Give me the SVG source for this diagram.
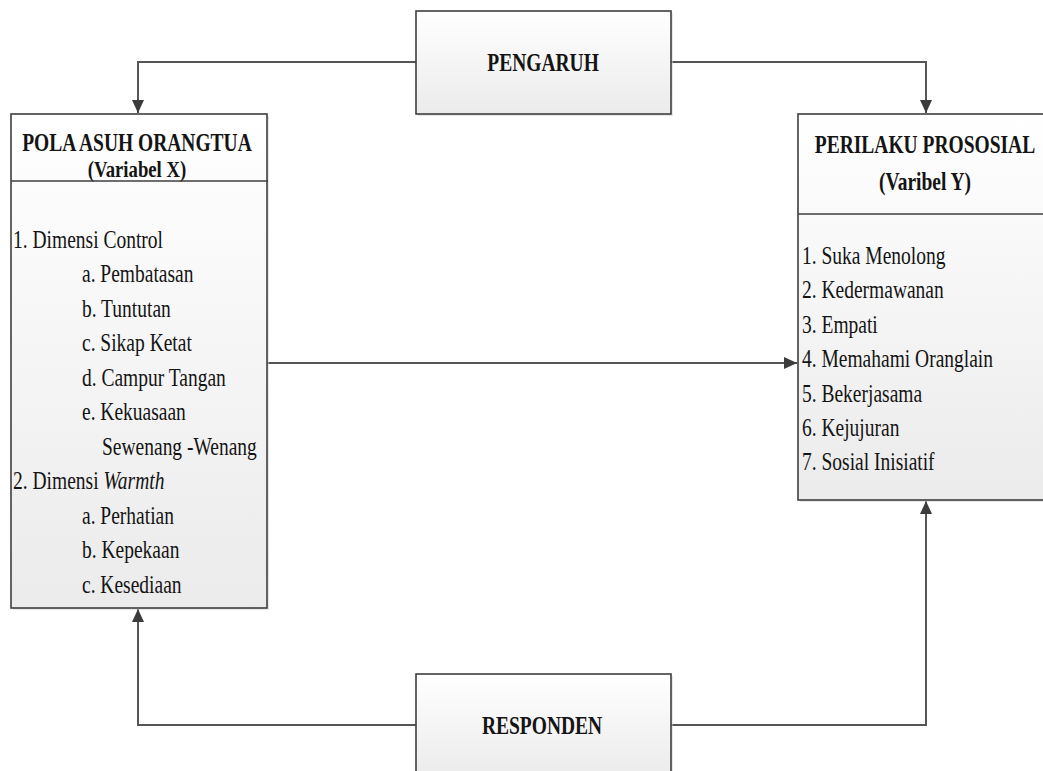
<svg xmlns="http://www.w3.org/2000/svg" width="1043" height="771" viewBox="0 0 1043 771">
<defs>
<linearGradient id="gFill" x1="0" y1="0" x2="0" y2="1">
<stop offset="0" stop-color="#ffffff"/>
<stop offset="1" stop-color="#ebebeb"/>
</linearGradient>
<marker id="arr" markerUnits="userSpaceOnUse" markerWidth="14" markerHeight="12" refX="13" refY="6" orient="auto">
<path d="M0,0 L13,6 L0,12 Z" fill="#3c3c3c"/>
</marker>
</defs>
<style>
.box{fill:url(#gFill);stroke:#3f3f3f;stroke-width:1.6}
.shadow{fill:#cfcfcf;opacity:0.5}
.div{stroke:#3f3f3f;stroke-width:1.6}
.conn{fill:none;stroke:#555555;stroke-width:2;marker-end:url(#arr)}
.t{font-family:"Liberation Serif","Times New Roman",serif;font-size:25px;fill:#141414}
.h{font-size:24px}
.b{font-weight:bold;text-anchor:middle}
</style>
<rect width="1043" height="771" fill="#ffffff"/>

<g id="connectors">
<path class="conn" d="M416,62 H138 V113"/>
<path class="conn" d="M671,62 H926 V113"/>
<path class="conn" d="M267,363 H797"/>
<path class="conn" d="M416,725 H138 V609"/>
<path class="conn" d="M671,725 H926 V501"/>
</g>

<g id="pengaruh">
<rect class="shadow" x="418" y="13" width="255" height="103"/>
<rect class="box" x="416" y="11" width="255" height="103"/>
<text class="t b" transform="scale(0.78 1)" x="696.2" y="71">PENGARUH</text>
</g>

<g id="responden">
<rect class="shadow" x="418" y="676" width="255" height="103"/>
<rect class="box" x="416" y="674" width="255" height="103"/>
<text class="t b" transform="scale(0.78 1)" x="694.9" y="734">RESPONDEN</text>
</g>

<g id="pola-asuh">
<rect class="shadow" x="13" y="116" width="256" height="494"/>
<rect class="box" x="11" y="114" width="256" height="494"/>
<line class="div" x1="11" y1="181" x2="268" y2="181"/>
<g class="t" transform="scale(0.78 1)">
<text class="b" x="175.6" y="151">POLA ASUH ORANGTUA</text>
<text class="b h" x="175.6" y="177">(Variabel X)</text>
<text x="16.7" y="248">1. Dimensi Control</text>
<text x="105.1" y="282.5">a. Pembatasan</text>
<text x="105.1" y="317">b. Tuntutan</text>
<text x="105.1" y="351.5">c. Sikap Ketat</text>
<text x="105.1" y="386">d. Campur Tangan</text>
<text x="105.1" y="420.5">e. Kekuasaan</text>
<text x="130.8" y="455">Sewenang -Wenang</text>
<text x="16.7" y="489.5">2. Dimensi <tspan font-style="italic">Warmth</tspan></text>
<text x="105.1" y="524">a. Perhatian</text>
<text x="105.1" y="558.5">b. Kepekaan</text>
<text x="105.1" y="593">c. Kesediaan</text>
</g>
</g>

<g id="perilaku-prososial">
<rect class="shadow" x="800" y="116" width="250" height="386"/>
<rect class="box" x="798" y="114" width="250" height="386"/>
<line class="div" x1="798" y1="214" x2="1048" y2="214"/>
<g class="t" transform="scale(0.78 1)">
<text class="b" x="1185.9" y="153">PERILAKU PROSOSIAL</text>
<text class="b" x="1185.9" y="190">(Varibel Y)</text>
<text x="1028.2" y="264">1. Suka Menolong</text>
<text x="1028.2" y="298">2. Kedermawanan</text>
<text x="1028.2" y="333">3. Empati</text>
<text x="1028.2" y="367">4. Memahami Oranglain</text>
<text x="1028.2" y="402">5. Bekerjasama</text>
<text x="1028.2" y="436">6. Kejujuran</text>
<text x="1028.2" y="470">7. Sosial Inisiatif</text>
</g>
</g>
</svg>
